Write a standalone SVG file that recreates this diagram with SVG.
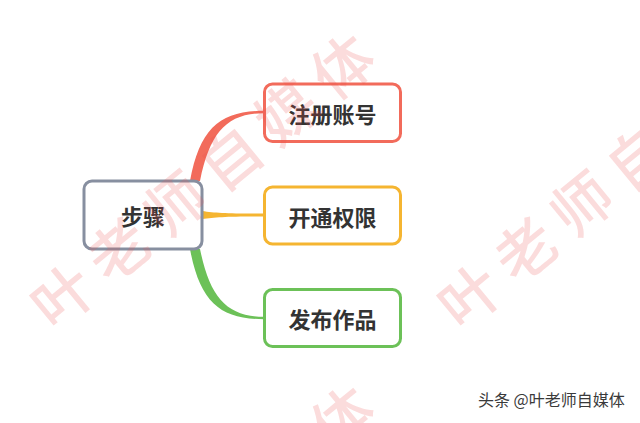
<svg xmlns="http://www.w3.org/2000/svg" width="640" height="423" viewBox="0 0 640 423">
<style>
.node rect{fill:#ffffff;stroke-width:3}
.label{font-family:"Noto Sans CJK SC","Noto Sans",sans-serif;font-weight:700;font-size:22px;fill:#333333;text-anchor:middle;dominant-baseline:central}
.wm{font-family:"Noto Sans CJK SC","Noto Sans",sans-serif;font-weight:500;font-size:60px;letter-spacing:12.5px;fill:#eb5050;fill-opacity:0.2;dominant-baseline:central}
.credit{font-family:"Noto Sans CJK SC","Noto Sans",sans-serif;font-size:16px;fill:#3a3a3a}
</style>
<rect width="640" height="423" fill="#ffffff"/>
<g id="connectors">
<path d="M190,181 C200,127 221,110.8 264,110.8 L264,113.2 C227,113.5 210,132 200,181 Z" fill="#F26B5B"/>
<path d="M202,211 C216,213 226,213.6 264,213.6 L264,216.4 C226,216.4 216,217 202,219 Z" fill="#F5B531"/>
<path d="M190,249 C200,303 221,319.2 264,319.2 L264,316.8 C227,316.5 210,298 200,249 Z" fill="#6CC158"/>
</g>
<g id="node-root" class="node">
<rect x="84" y="181" width="118" height="68" rx="8" stroke="#878FA0"/>
<text class="label" x="143" y="215">步骤</text>
</g>
<g id="node-1" class="node">
<rect x="264.5" y="84" width="136" height="57.5" rx="8" stroke="#F26B5B"/>
<text class="label" x="332.5" y="112.5">注册账号</text>
</g>
<g id="node-2" class="node">
<rect x="264.5" y="187" width="136" height="57" rx="8" stroke="#F5B531"/>
<text class="label" x="332.5" y="215.5">开通权限</text>
</g>
<g id="node-3" class="node">
<rect x="264.5" y="289.5" width="136" height="57" rx="8" stroke="#6CC158"/>
<text class="label" x="332.5" y="318">发布作品</text>
</g>
<g id="watermark">
<text class="wm" transform="translate(60,293) rotate(-39.4)" x="-30" y="0">叶老师自媒体</text>
<text class="wm" transform="translate(467,293) rotate(-39.4)" x="-30" y="0">叶老师自媒体</text>
<text class="wm" transform="translate(60,645) rotate(-39.4)" x="-30" y="0">叶老师自媒体</text>
</g>
<text class="credit" x="478" y="406">头条 @叶老师自媒体</text>
</svg>
